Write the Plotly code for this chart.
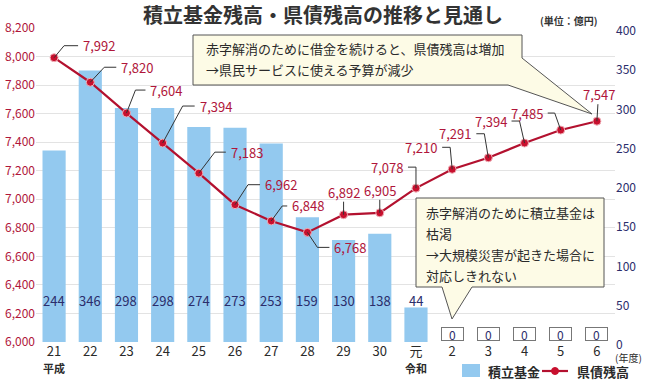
import plotly.graph_objects as go

# ---------------- data ----------------
categories = ["21", "22", "23", "24", "25", "26", "27", "28", "29", "30", "元", "2", "3", "4", "5", "6"]
era_labels = {0: "平成", 10: "令和"}
fund_values = [244, 346, 298, 298, 274, 273, 253, 159, 130, 138, 44, 0, 0, 0, 0, 0]   # 積立基金 (右軸)
debt_values = [7992, 7820, 7604, 7394, 7183, 6962, 6848, 6768, 6892, 6905, 7078, 7210, 7291, 7394, 7485, 7547]  # 県債残高 (左軸)
left_ticks = [6000, 6200, 6400, 6600, 6800, 7000, 7200, 7400, 7600, 7800, 8000, 8200]
right_ticks = [0, 50, 100, 150, 200, 250, 300, 350, 400]
series_names = ["積立基金", "県債残高"]

title_text = "積立基金残高・県債残高の推移と見通し"
unit_text = "(単位：億円)"
callout1 = ["赤字解消のために借金を続けると、県債残高は増加", "→県民サービスに使える予算が減少"]
callout2 = ["赤字解消のために積立基金は", "枯渇", "→大規模災害が起きた場合に", "対応しきれない"]

# ---------------- styling ----------------
W, H = 646, 383
L, R, T, B = 36, 615, 28, 342  # plot area in pixels
FONT = "Noto Sans CJK JP"
BAR_COLOR = "#93c9ef"
LINE_COLOR = "#b3112f"
MARKER_COLOR = "#c8102e"
RED_TEXT = "#b0163a"
NAVY = "#2b2d6b"
DARK = "#2a2a2a"
CREAM = "#fdfbe6"


def px(x):
    return (x - L) / (R - L)


def py(y):
    return (B - y) / (B - T)


# leader-line paths (pixel offsets from the point, +y = up) and label offsets
leader_style = [
    ([(0, 0), (10, 12), (24, 12)], (27, 12), "left"),
    ([(0, 0), (14, 15), (26, 15)], (29, 15), "left"),
    ([(0, 0), (9, 23), (19, 23)], (22, 23), "left"),
    ([(0, 0), (20, 37), (32, 37)], (35, 37), "left"),
    ([(0, 0), (16, 21), (27, 21)], (30, 21), "left"),
    ([(0, 0), (13, 20), (25, 20)], (28, 20), "left"),
    ([(0, 0), (11, 15), (16, 15)], (19, 15), "left"),
    ([(0, 0), (10, -15), (22, -15)], (25, -15), "left"),
    ([(0, 0), (0, 13)], (0, 22), "center"),
    ([(0, 0), (0, 13)], (0, 22), "center"),
    ([(0, 0), (0, 21), (-8, 21)], (-11, 21), "right"),
    ([(0, 0), (-2, 22), (-10, 22)], (-13, 22), "right"),
    ([(0, 0), (-4, 24), (-12, 24)], (-15, 24), "right"),
    ([(0, 0), (-5, 22), (-13, 22)], (-16, 22), "right"),
    ([(0, 0), (-6, 17), (-13, 17)], (-16, 17), "right"),
    ([(0, 0), (1, 17)], (2, 27), "center"),
]

xs = list(range(len(categories)))
ticktext = []
for i, c in enumerate(categories):
    if i in era_labels:
        ticktext.append(f"{c}<br><span style='font-size:11px'><b>{era_labels[i]}</b></span>")
    else:
        ticktext.append(c)

fig = go.Figure()
# bars on the primary axis (drawn first, underneath); shown on the right side
fig.add_trace(go.Bar(
    x=xs, y=fund_values, yaxis="y", name=series_names[0], showlegend=False,
    marker=dict(color=BAR_COLOR, line=dict(width=0)), width=0.64,
))
# debt line on the overlaying axis (drawn on top); shown on the left side
fig.add_trace(go.Scatter(
    x=xs, y=debt_values, yaxis="y2", name=series_names[1], mode="lines+markers", showlegend=False,
    line=dict(color=LINE_COLOR, width=2.2),
    marker=dict(color=MARKER_COLOR, size=8, line=dict(color="#f0b0b8", width=1)),
))

annotations = []
shapes = []

# debt labels with leader lines
for i, v in enumerate(debt_values):
    pts, (tx, ty), anchor = leader_style[i]
    path = "M " + " L ".join(f"{a},{b}" for a, b in pts)
    shapes.append(dict(type="path", xref="x", yref="y2", xsizemode="pixel", ysizemode="pixel",
                       xanchor=xs[i], yanchor=v, path=path,
                       line=dict(color="#333333", width=1), layer="above"))
    annotations.append(dict(x=xs[i], y=v, xref="x", yref="y2", text=f"{v:,}", showarrow=False,
                            xanchor=anchor, yanchor="middle", xshift=tx, yshift=ty,
                            font=dict(family=FONT, size=13, color=RED_TEXT)))

# fund labels
for i, v in enumerate(fund_values):
    if v > 0:
        annotations.append(dict(x=xs[i], y=53, xref="x", yref="y", text=str(v), showarrow=False,
                                xanchor="center", yanchor="middle",
                                font=dict(family=FONT, size=13, color=NAVY)))
    else:
        annotations.append(dict(x=xs[i], y=v, xref="x", yref="y", text=str(v), showarrow=False,
                                xanchor="center", yanchor="bottom", yshift=1,
                                width=21, height=12, borderpad=0, borderwidth=1,
                                bordercolor="#777777", bgcolor="white",
                                font=dict(family=FONT, size=12, color=NAVY)))

# callout bubbles (decorative)
def bubble(points):
    return "M " + " L ".join(f"{px(a)},{py(b)}" for a, b in points) + " Z"

shapes.append(dict(type="path", xref="paper", yref="paper",
                   path=bubble([(193, 35), (522, 35), (522, 58), (592, 114), (508, 85), (193, 85)]),
                   fillcolor=CREAM, line=dict(color="#555555", width=1), layer="above"))
shapes.append(dict(type="path", xref="paper", yref="paper",
                   path=bubble([(416, 198), (604, 198), (604, 287), (472, 287), (452, 319), (442, 287), (416, 287)]),
                   fillcolor=CREAM, line=dict(color="#555555", width=1), layer="above"))

for k, line in enumerate(callout1):
    annotations.append(dict(x=px(204), y=py(48 + k * 21), xref="paper", yref="paper", text=line,
                            showarrow=False, xanchor="left", yanchor="middle",
                            font=dict(family=FONT, size=13, color=DARK)))
for k, line in enumerate(callout2):
    annotations.append(dict(x=px(424), y=py(212 + k * 21), xref="paper", yref="paper", text=line,
                            showarrow=False, xanchor="left", yanchor="middle",
                            font=dict(family=FONT, size=13, color=DARK)))

# manual legend (below the plot, bottom right)
shapes.append(dict(type="rect", xref="paper", yref="paper",
                   x0=px(462), x1=px(480), y0=py(377), y1=py(364),
                   fillcolor=BAR_COLOR, line=dict(width=0)))
shapes.append(dict(type="line", xref="paper", yref="paper",
                   x0=px(542), x1=px(568), y0=py(371), y1=py(371),
                   line=dict(color=LINE_COLOR, width=2.2)))
shapes.append(dict(type="circle", xref="paper", yref="paper",
                   x0=px(551.5), x1=px(558.5), y0=py(374.5), y1=py(367.5),
                   fillcolor=MARKER_COLOR, line=dict(color=MARKER_COLOR, width=1)))
annotations.append(dict(x=px(486), y=py(371), xref="paper", yref="paper", text=f"<b>{series_names[0]}</b>",
                        showarrow=False, xanchor="left", yanchor="middle",
                        font=dict(family=FONT, size=13, color=DARK)))
annotations.append(dict(x=px(575), y=py(371), xref="paper", yref="paper", text=f"<b>{series_names[1]}</b>",
                        showarrow=False, xanchor="left", yanchor="middle",
                        font=dict(family=FONT, size=13, color=DARK)))

# title, unit, fiscal-year note
annotations.append(dict(x=px(323), y=py(14), xref="paper", yref="paper", text=f"<b>{title_text}</b>",
                        showarrow=False, xanchor="center", yanchor="middle",
                        font=dict(family=FONT, size=20, color="#333333")))
annotations.append(dict(x=px(569), y=py(20), xref="paper", yref="paper", text=f"<b>{unit_text}</b>",
                        showarrow=False, xanchor="center", yanchor="middle",
                        font=dict(family=FONT, size=10, color="#333333")))
annotations.append(dict(x=px(628), y=py(357), xref="paper", yref="paper", text="(年度)",
                        showarrow=False, xanchor="center", yanchor="middle",
                        font=dict(family=FONT, size=10, color=DARK)))

fig.update_layout(
    width=W, height=H,
    margin=dict(l=L, r=W - R, t=T, b=H - B, autoexpand=False),
    paper_bgcolor="white", plot_bgcolor="white",
    font=dict(family=FONT, color=DARK),
    bargap=0.36,
    showlegend=False,
    hovermode=False,
    xaxis=dict(range=[-0.5, len(categories) - 0.5], tickvals=xs, ticktext=ticktext,
               showgrid=False, zeroline=False, showline=False, ticks="", automargin=False,
               tickfont=dict(family=FONT, size=13, color=DARK), fixedrange=True),
    yaxis=dict(range=[0, 400], tickvals=right_ticks, side="right", ticklabelshift=3,
               showgrid=False, zeroline=False, showline=False, ticks="", automargin=False,
               tickfont=dict(family=FONT, size=12, color=NAVY)),
    yaxis2=dict(range=[6000, 8200], tickvals=left_ticks, tickformat=",", overlaying="y", side="left",
                showgrid=True, gridcolor="#e3e3e3", gridwidth=1, zeroline=False, showline=False,
                ticks="", automargin=False, layer="below traces",
                tickfont=dict(family=FONT, size=12, color=NAVY if False else RED_TEXT)),
    annotations=annotations,
    shapes=shapes,
)

fig.write_html("out.html", config={"displayModeBar": False},
               post_script="document.body.style.margin='0';document.body.style.overflow='hidden';")
